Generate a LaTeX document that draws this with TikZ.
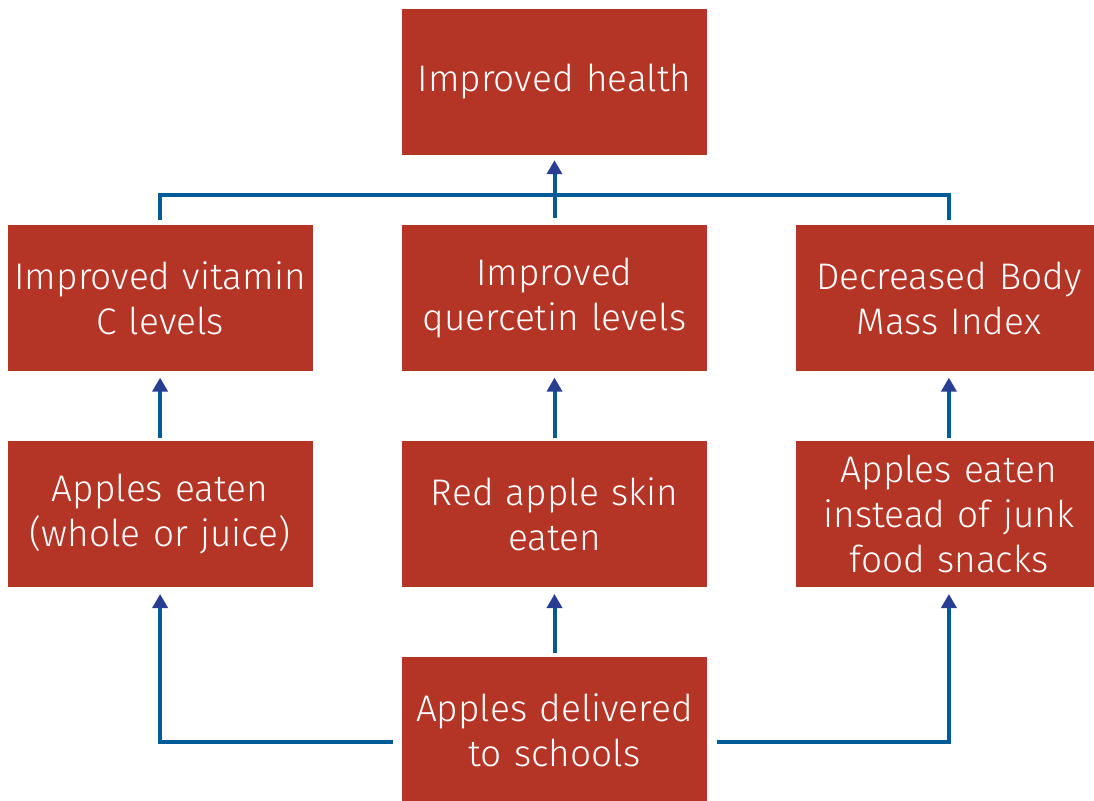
\documentclass[tikz,border=0pt]{standalone}
\usepackage{fontspec}
\setmainfont{Fira Sans Light}
\usetikzlibrary{arrows.meta,positioning}
\definecolor{cBox}{HTML}{B43526}
\definecolor{cWire}{HTML}{005B96}
\definecolor{cTip}{HTML}{283E92}
\tikzset{
  stage/.style = {rectangle, fill=cBox, text=white, inner sep=0pt,
                  minimum width=305pt, minimum height=146pt, text width=303pt,
                  align=center, font=\fontsize{37}{45}\selectfont},
  wire/.style  = {draw=cWire, line width=4pt},
  link/.style  = {wire, -{Triangle[length=14pt,width=15pt,color=cTip]}},
}
\begin{document}
\begin{tikzpicture}[x=1pt,y=1pt]
  \useasboundingbox (0,0) rectangle (1094,-800);
  \node[stage] (health) at (554.5,-82) {Improved health};
  \node[stage, below=70pt of health] (querc) {Improved\\quercetin levels};
  \node[stage, left=89pt of querc] (vitc) {Improved vitamin\\C levels};
  \node[stage, right=89pt of querc] (bmi) {Decreased Body\\Mass Index};
  \node[stage, below=69pt of vitc] (whole) {Apples eaten\\(whole or juice)};
  \node[stage, below=69pt of querc] (skin) {Red apple skin\\eaten};
  \node[stage, below=69pt of bmi] (junk) {Apples eaten\\instead of junk\\food snacks};
  \node[stage, below=70pt of skin] (deliv) {Apples delivered\\to schools};
  \coordinate[below=40pt of health] (bar);

  \draw[wire] ([yshift=5pt]vitc.north) |- (bar -| bmi.north) -- ([yshift=5pt]bmi.north);
  \draw[link] ([yshift=7pt]querc.north) -- ([yshift=-5pt]health.south);
  \draw[link] ([yshift=3pt]whole.north) -- ([yshift=-6pt]vitc.south);
  \draw[link] ([yshift=3pt]skin.north) -- ([yshift=-6pt]querc.south);
  \draw[link] ([yshift=3pt]junk.north) -- ([yshift=-6pt]bmi.south);
  \draw[link] ([yshift=4pt]deliv.north) -- ([yshift=-7pt]skin.south);
  \draw[link] ([xshift=-9pt,yshift=-12pt]deliv.west) -| ([yshift=-7pt]whole.south);
  \draw[link] ([xshift=10pt,yshift=-12pt]deliv.east) -| ([yshift=-7pt]junk.south);
\end{tikzpicture}
\end{document}
